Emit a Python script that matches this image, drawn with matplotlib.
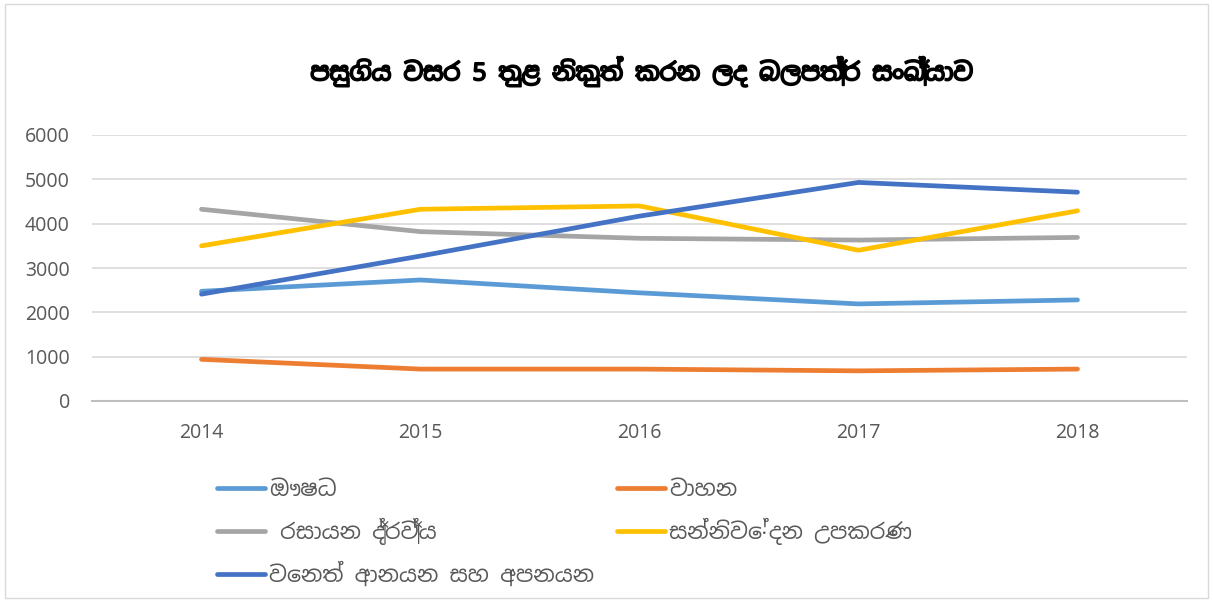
import matplotlib
matplotlib.use('Agg')
import matplotlib.pyplot as plt
import matplotlib.patheffects as pe
from matplotlib.patches import Rectangle

# දත්ත
years = ['2014', '2015', '2016', '2017', '2018']
aushadha = [2475, 2730, 2440, 2190, 2280]
vahana = [940, 720, 720, 680, 720]
rasayana = [4325, 3820, 3670, 3630, 3690]
sannivedana = [3500, 4325, 4400, 3400, 4290]
wenath = [2410, 3270, 4170, 4930, 4710]

labels = ['ඖෂධ', 'වාහන', ' රසායන ද්‍රව්‍ය', 'සන්නිවේදන උපකරණ', 'වෙනත් ආනයන සහ අපනයන']
colors = ['#5B9BD5', '#ED7D31', '#A5A5A5', '#FFC000', '#4472C4']
title = 'පසුගිය වසර 5 තුළ නිකුත් කරන ලද බලපත්‍ර සංඛ්‍යාව'

plt.rcParams['font.family'] = ['Noto Sans Sinhala', 'Noto Sans', 'DejaVu Sans']

fig = plt.figure(figsize=(12.13, 6), dpi=100)
fig.add_artist(Rectangle((0.004, 0.004), 0.992, 0.99, transform=fig.transFigure,
                         fill=False, edgecolor='#D9D9D9', linewidth=1))
ax = fig.add_axes([92 / 1213, 1 - 401 / 600, (1187 - 92) / 1213, (401 - 135) / 600])

series = [aushadha, vahana, rasayana, sannivedana, wenath]
x = list(range(len(years)))
lines = []
for vals, c, lab in zip(series, colors, labels):
    ln, = ax.plot(x, vals, color=c, linewidth=3.4, solid_capstyle='round', label=lab)
    lines.append(ln)

ax.set_xlim(-0.5, 4.5)
ax.set_ylim(0, 6000)
ax.set_yticks(range(0, 6001, 1000))
ax.set_xticks(x)
ax.set_xticklabels(years)
ax.grid(axis='y', color='#D9D9D9', linewidth=1.2)
ax.set_axisbelow(True)
for s in ['top', 'right', 'left']:
    ax.spines[s].set_visible(False)
ax.spines['bottom'].set_color('#BFBFBF')
ax.spines['bottom'].set_linewidth(1.5)
ax.tick_params(length=0, labelsize=14, colors='#595959')
ax.tick_params(axis='y', pad=16)
ax.tick_params(axis='x', pad=16)

fig.text(0.529, 1 - 72 / 600, title, ha='center', va='center', fontsize=17.5,
         fontweight='bold', color='black',
         path_effects=[pe.withStroke(linewidth=1.3, foreground='black')])

# ලෙජන්ඩ් - පේළි අනුව පෙළගැස්වීමට තීරු දෙකක් වෙන වෙනම
leg_kw = dict(loc='upper left', frameon=False, fontsize=16, handlelength=2.15,
              handletextpad=0.2, labelspacing=0.75, labelcolor='#595959')
fig.legend([lines[0], lines[2], lines[4]], [labels[0], labels[2], labels[4]],
           bbox_to_anchor=(197 / 1213, 1 - 460 / 600), **leg_kw)
fig.legend([lines[1], lines[3]], [labels[1], labels[3]],
           bbox_to_anchor=(597 / 1213, 1 - 460 / 600), **leg_kw)

plt.savefig('out.png', dpi=100)
